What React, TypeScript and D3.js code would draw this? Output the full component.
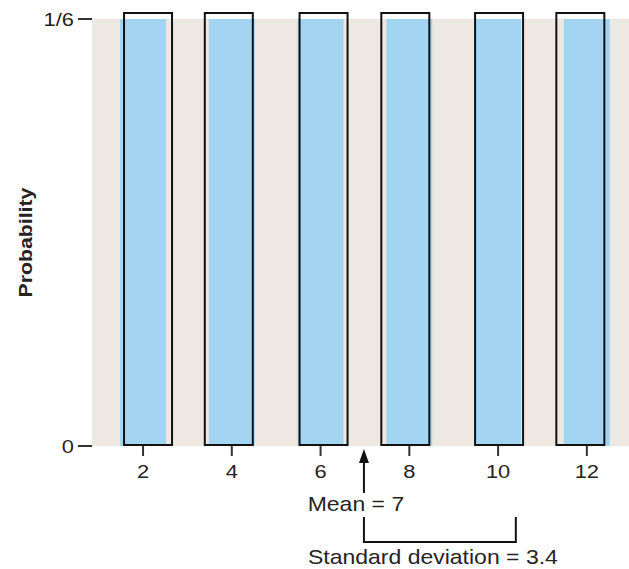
import React from "react";
import * as d3 from "d3";

const outcomes = [2, 4, 6, 8, 10, 12];
const probabilities = [1 / 6, 1 / 6, 1 / 6, 1 / 6, 1 / 6, 1 / 6];
const yTickValues = [0, 1 / 6];
const yTickLabels = ["0", "1/6"];
const meanValue = 7;
const sdValue = 3.4;
const meanLabel = "Mean = 7";
const sdLabel = "Standard deviation = 3.4";
const yTitle = "Probability";

// print misregistration of the black outlines relative to the blue fills (px)
const outlineShift = [5, -3, 3, -4, 1, -6.5];

const W = 629;
const H = 569;
const FONT = "'Liberation Sans', Arial, Helvetica, sans-serif";
const TEXT = "#262324";
const STRETCH = 1.15;

function Label({
  x,
  y,
  anchor = "middle",
  size = 20,
  weight = "normal",
  rotate = 0,
  children,
}: {
  x: number;
  y: number;
  anchor?: string;
  size?: number;
  weight?: string;
  rotate?: number;
  children: React.ReactNode;
}) {
  return (
    <g transform={`translate(${x},${y}) rotate(${rotate}) scale(${STRETCH},1)`}>
      <text
        x={0}
        y={0}
        textAnchor={anchor}
        fontSize={size}
        fontWeight={weight}
        fill={TEXT}
        fontFamily={FONT}
      >
        {children}
      </text>
    </g>
  );
}

export default function App() {
  const plot = { left: 92, right: 629, top: 19, bottom: 446 };
  const x = d3.scaleLinear().domain([0.85, 12.95]).range([plot.left, plot.right]);
  const y = d3.scaleLinear().domain([0, 1 / 6]).range([plot.bottom, plot.top]);

  const fillW = 46;
  const outW = 48;

  const mx = x(meanValue) - 1;
  const sx = x(meanValue + sdValue);

  return (
    <svg
      width={W}
      height={H}
      style={{ position: "absolute", left: 0, top: 0, background: "#fff" }}
      fontFamily={FONT}
    >
      <rect
        x={plot.left}
        y={plot.top}
        width={plot.right - plot.left}
        height={plot.bottom - plot.top}
        fill="#ede8e1"
      />
      {outcomes.map((o, i) => (
        <rect
          key={"f" + o}
          x={x(o) - fillW / 2}
          y={y(probabilities[i])}
          width={fillW}
          height={y(0) - y(probabilities[i])}
          fill="#a3d5f3"
        />
      ))}
      {outcomes.map((o, i) => (
        <rect
          key={"o" + o}
          x={x(o) - outW / 2 + outlineShift[i]}
          y={y(probabilities[i]) - 6}
          width={outW}
          height={y(0) - y(probabilities[i]) + 5}
          fill="none"
          stroke="#111"
          strokeWidth={2}
        />
      ))}
      {/* x ticks */}
      {outcomes.map((o) => (
        <g key={"t" + o}>
          <line x1={x(o)} x2={x(o)} y1={plot.bottom} y2={plot.bottom + 10} stroke="#333" strokeWidth={2} />
          <Label x={x(o)} y={plot.bottom + 32} size={19}>
            {o}
          </Label>
        </g>
      ))}
      {/* y ticks */}
      {yTickValues.map((v, i) => (
        <g key={"y" + i}>
          <line x1={plot.left - 14} x2={plot.left} y1={y(v)} y2={y(v)} stroke="#333" strokeWidth={2} />
          <Label x={plot.left - 18} y={y(v) + 7} anchor="end" size={19}>
            {yTickLabels[i]}
          </Label>
        </g>
      ))}
      <Label x={32} y={(plot.top + plot.bottom) / 2 + 10} rotate={-90} size={18.5} weight="bold">
        {yTitle}
      </Label>
      {/* mean arrow */}
      <line x1={mx} x2={mx} y1={plot.bottom + 12} y2={plot.bottom + 47} stroke="#111" strokeWidth={2} />
      <path
        d={`M${mx},${plot.bottom + 3} L${mx - 5},${plot.bottom + 17} L${mx + 5},${plot.bottom + 17} Z`}
        fill="#111"
      />
      <Label x={mx - 8} y={plot.bottom + 65} size={20}>
        {meanLabel}
      </Label>
      {/* SD bracket */}
      <path
        d={`M${mx},${plot.bottom + 71} V${plot.bottom + 96} H${sx} V${plot.bottom + 71}`}
        fill="none"
        stroke="#111"
        strokeWidth={2}
      />
      <Label x={(mx + sx) / 2 - 7} y={plot.bottom + 118} size={20}>
        {sdLabel}
      </Label>
    </svg>
  );
}
